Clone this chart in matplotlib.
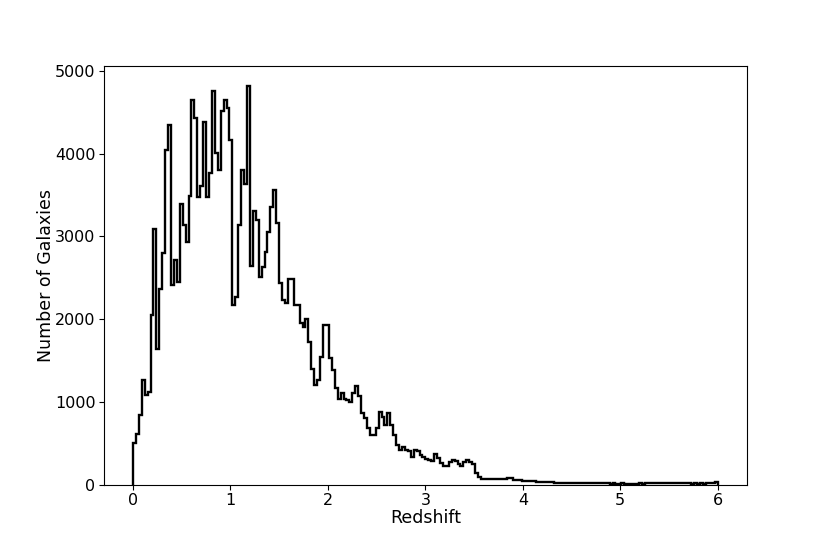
import numpy as np
import matplotlib
matplotlib.use('Agg')
import matplotlib.pyplot as plt

# redshift bins: 200 bins of width 0.03 from 0 to 6
z_min = 0.0
z_max = 6.0
n_bins = 200

# galaxy counts per bin
counts_0 = [507, 615, 844, 1267, 1080, 1120, 2050, 3088, 1640, 2364,
            2798, 4041, 4343, 2413, 2714, 2452, 3390, 3136, 2935, 3486]
counts_1 = [4644, 4435, 3478, 3607, 4383, 3478, 3763, 4757, 4005, 3800,
            4515, 4644, 4548, 4162, 2171, 2268, 3136, 3800, 3631, 4813]
counts_2 = [2642, 3309, 3197, 2509, 2634, 2815, 3056, 3358, 3567, 3164,
            2441, 2232, 2199, 2481, 2481, 2171, 2171, 1954, 1910, 1999]
counts_3 = [1729, 1396, 1206, 1267, 1548, 1926, 1926, 1528, 1387, 1166,
            1034, 1106, 1034, 1030, 1005, 1106, 1194, 1074, 865, 804]
counts_4 = [684, 603, 603, 684, 884, 824, 724, 872, 724, 603,
            483, 422, 455, 422, 402, 341, 422, 402, 360, 340]
counts_5 = [310, 300, 290, 374, 322, 262, 229, 229, 269, 302,
            290, 250, 229, 280, 302, 269, 250, 145, 93, 72]
counts_6 = [66, 64, 64, 66, 68, 70, 68, 72, 85, 80,
            60, 56, 52, 50, 48, 42, 45, 48, 38, 34]
counts_7 = [32, 30, 28, 30, 27, 25, 26, 24, 25, 22,
            23, 21, 22, 20, 21, 19, 20, 18, 19, 17]
counts_8 = [18, 16, 17, 15, 16, 15, 14, 16, 15, 14,
            13, 15, 14, 16, 15, 17, 16, 18, 20, 22]
counts_9 = [19, 21, 24, 20, 18, 22, 19, 17, 20, 16,
            18, 15, 17, 14, 16, 15, 18, 20, 22, 38]

counts = np.array(counts_0 + counts_1 + counts_2 + counts_3 + counts_4 +
                  counts_5 + counts_6 + counts_7 + counts_8 + counts_9)
edges = np.linspace(z_min, z_max, n_bins + 1)

fig = plt.figure(figsize=(8.3, 5.54), dpi=100)
ax = fig.add_subplot(111)
fig.subplots_adjust(left=0.125, right=0.9, top=0.88, bottom=0.125)

ax.hist(edges[:-1], bins=edges, weights=counts, histtype='step',
        color='black', linewidth=1.7)

ax.set_xlabel('Redshift', fontsize=12.5, labelpad=1)
ax.set_ylabel('Number of Galaxies', fontsize=12.5, labelpad=0)
ax.tick_params(labelsize=11.5, pad=2.5)

fig.savefig('out.png', dpi=100)
